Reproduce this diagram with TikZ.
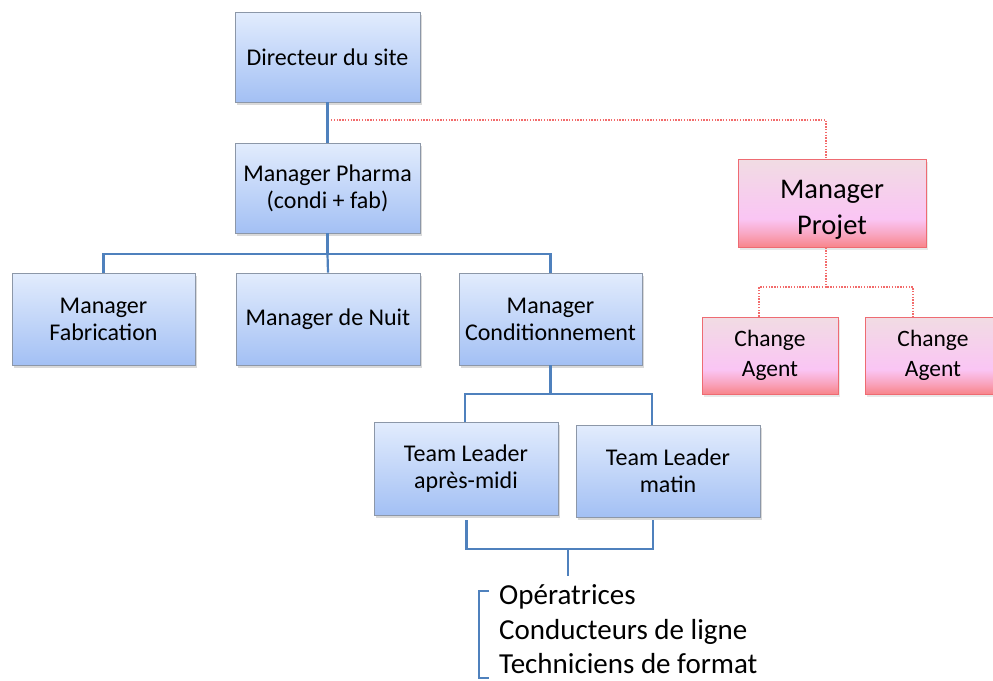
\documentclass[tikz,border=0pt]{standalone}
\usepackage{fontspec}
\setmainfont{Carlito}
\usetikzlibrary{shadows}
\definecolor{bluetop}{HTML}{E2ECFD}
\definecolor{bluebot}{HTML}{A3C0F4}
\definecolor{blueborder}{HTML}{8C97A8}
\definecolor{linkblue}{HTML}{4F81BD}
\definecolor{pinktop}{HTML}{F1DCE3}
\definecolor{pinkmid}{HTML}{FAC5F4}
\definecolor{pinkbot}{HTML}{F8858B}
\definecolor{pinkborder}{HTML}{EE6B72}
\definecolor{reddot}{HTML}{F26B6B}
\pgfdeclareverticalshading{pinkshade}{100bp}{color(0bp)=(pinkbot); color(25bp)=(pinkbot); color(33bp)=(pinkmid!55!pinkbot); color(41bp)=(pinkmid); color(75bp)=(pinktop); color(100bp)=(pinktop)}
\begin{document}
\begin{tikzpicture}[x=1pt,y=-1pt,
  bluebox/.style={draw=blueborder, line width=0.9pt, top color=bluetop, bottom color=bluebot,
    align=center, inner sep=2pt, font=\fontsize{24}{27}\selectfont,
    drop shadow={opacity=0.3, shadow xshift=1.5pt, shadow yshift=-3pt}},
  pinkbox/.style={draw=pinkborder, line width=0.9pt, shading=pinkshade,
    align=center, inner sep=2pt, font=\fontsize{23.5}{30}\selectfont,
    drop shadow={opacity=0.18, shadow xshift=1.5pt, shadow yshift=-3pt}},
  blueline/.style={draw=linkblue, line width=2.2pt},
  redline/.style={draw=reddot, line width=1.7pt, dash pattern=on 1.4pt off 1.4pt},
  listtext/.style={anchor=base west, inner sep=0pt, font=\fontsize{29}{36}\selectfont}]
\useasboundingbox (0,0) rectangle (993,680);

% blue boxes
\node[bluebox, minimum width=185pt, minimum height=90pt] (dir) at (327.5,57) {Directeur du site};
\node[bluebox, minimum width=185pt, minimum height=90pt] (pharma) at (327.5,188) {Manager Pharma\\(condi + fab)};
\node[bluebox, minimum width=183pt, minimum height=92pt] (fab) at (103.5,319) {Manager\\Fabrication};
\node[bluebox, minimum width=184pt, minimum height=92pt] (nuit) at (328,319) {Manager de Nuit};
\node[bluebox, minimum width=183pt, minimum height=92pt] (cond) at (550.5,319) {Manager\\Conditionnement};
\node[bluebox, minimum width=184pt, minimum height=93pt] (tlam) at (466,468.5) {Team Leader\\après-midi};
\node[bluebox, minimum width=184pt, minimum height=92pt] (tlm) at (668,471) {Team Leader\\matin};

% pink boxes
\node[pinkbox, minimum width=188pt, minimum height=88pt, font=\fontsize{28.5}{36}\selectfont] (projet) at (832,203) {\rule{0pt}{31pt}Manager\\Projet};
\node[pinkbox, minimum width=136pt, minimum height=77pt] (ca1) at (770,355.5) {Change\\Agent};
\node[pinkbox, minimum width=136pt, minimum height=77pt] (ca2) at (933,355.5) {Change\\Agent};

% blue connectors
\draw[blueline] (dir.south) -- (pharma.north);
\coordinate (b1) at (327.5,254);
\draw[blueline] (pharma.south) -- (b1);
\draw[blueline] (fab.north) |- (b1) -| (cond.north);
\draw[blueline] (b1) -- (nuit.north);

\coordinate (b2) at (550.5,394);
\coordinate (tlamtop) at (465,422);
\coordinate (tlmtop) at (652,425);
\draw[blueline] (cond.south) -- (b2);
\draw[blueline] (tlamtop) |- (b2) -| (tlmtop);

\coordinate (tlambot) at (466.5,520);
\coordinate (tlmbot) at (653,520);
\coordinate (b3) at (568,549);
\coordinate (b3end) at (568,576);
\draw[blueline] (tlambot) |- (b3) -| (tlmbot);
\draw[blueline] (b3) -- (b3end);

% bracket and list
\coordinate (brtop) at (489,591);
\coordinate (brbot) at (489,678);
\draw[draw=linkblue, line width=1.4pt] (brtop) -- (479,591) -- (479,678) -- (brbot);
\node[listtext] (op1) at (499,604) {Opératrices};
\node[listtext] (op2) at (499,639.5) {Conducteurs de ligne};
\node[listtext] (op3) at (499,673) {Techniciens de format};

% red dotted connectors
\coordinate (rs) at (331,120);
\draw[redline] (rs) -| ([xshift=-6pt]projet.north);
\coordinate (b4) at (826,287);
\draw[redline] ([xshift=-6pt]projet.south) -- (b4);
\draw[redline] ([xshift=-11pt]ca1.north) |- (b4) -| ([xshift=-20pt]ca2.north);
\end{tikzpicture}
\end{document}
